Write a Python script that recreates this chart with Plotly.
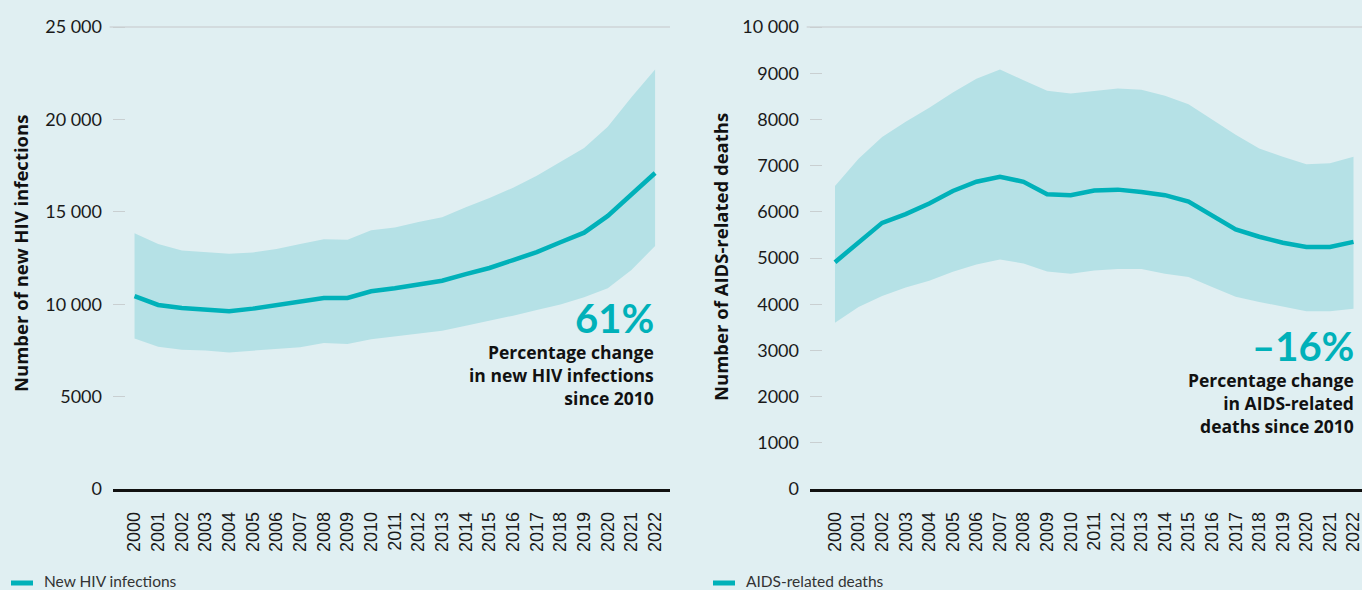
import plotly.graph_objects as go

years = list(range(2000, 2023))

# New HIV infections (left panel)
hiv_est = [10440, 9960, 9800, 9730, 9620, 9760, 9940, 10100, 10340, 10340, 10700,
           10860, 11040, 11270, 11630, 11960, 12390, 12820, 13350, 13870, 14780, 15900, 17100]
hiv_low = [8150, 7700, 7540, 7500, 7390, 7480, 7540, 7670, 7900, 7850, 8100,
           8260, 8390, 8570, 8840, 9090, 9380, 9690, 9990, 10370, 10860, 11850, 13150]
hiv_high = [13840, 13260, 12900, 12800, 12730, 12800, 12990, 13260, 13510, 13490, 14000,
            14150, 14450, 14700, 15250, 15750, 16300, 16950, 17700, 18450, 19600, 21200, 22700]

# AIDS-related deaths (right panel)
aids_est = [4910, 5340, 5760, 5950, 6180, 6450, 6650, 6760, 6650, 6380, 6360,
            6460, 6480, 6430, 6360, 6220, 5930, 5620, 5460, 5330, 5240, 5240, 5350]
aids_low = [3600, 3940, 4180, 4360, 4510, 4700, 4860, 4970, 4880, 4710, 4660,
            4730, 4760, 4760, 4660, 4590, 4370, 4160, 4050, 3950, 3850, 3850, 3900]
aids_high = [6560, 7150, 7620, 7950, 8250, 8580, 8880, 9080, 8850, 8620, 8560,
             8620, 8670, 8640, 8510, 8330, 8000, 7670, 7370, 7190, 7030, 7050, 7190]

left_ticks = [0, 5000, 10000, 15000, 20000, 25000]
left_ticktext = ["0", "5000", "10 000", "15 000", "20 000", "25 000"]
right_ticks = [0, 1000, 2000, 3000, 4000, 5000, 6000, 7000, 8000, 9000, 10000]
right_ticktext = ["0", "1000", "2000", "3000", "4000", "5000", "6000", "7000", "8000", "9000", "10 000"]

left_callout = ["Percentage change", "in new HIV infections", "since 2010"]
right_callout = ["Percentage change", "in AIDS-related", "deaths since 2010"]

BG = "#e0eff2"
BAND = "#b5e1e6"
LINE = "#00b1b9"
TXT = "#1a1a1a"
W, H = 1362, 590
FONT = "Lato, 'Open Sans', sans-serif"
BFONT = "'Open Sans', Lato, sans-serif"

fig = go.Figure()

def add_panel(xa, ya, low, high, est, name):
    fig.add_trace(go.Scatter(x=years, y=low, mode="lines", line=dict(width=0, color=BAND),
                             showlegend=False, hoverinfo="skip", xaxis=xa, yaxis=ya))
    fig.add_trace(go.Scatter(x=years, y=high, mode="lines", line=dict(width=0, color=BAND),
                             fill="tonexty", fillcolor=BAND, showlegend=False,
                             hoverinfo="skip", xaxis=xa, yaxis=ya))
    fig.add_trace(go.Scatter(x=years, y=est, mode="lines", name=name,
                             line=dict(width=4.5, color=LINE), showlegend=False,
                             xaxis=xa, yaxis=ya))

add_panel("x", "y", hiv_low, hiv_high, hiv_est, "New HIV infections")
add_panel("x2", "y2", aids_low, aids_high, aids_est, "AIDS-related deaths")

ydom = [101 / H, (H - 24.23) / H]

xcommon = dict(tickmode="array", tickvals=years, ticktext=[str(y) for y in years],
               tickangle=-90, tickfont=dict(family="'Liberation Sans', Arial, sans-serif", size=18, color=TXT),
               showgrid=False, zeroline=False, showline=True, linecolor="#111111", linewidth=2.5,
               ticks="", ticklabelstandoff=13, ticklabeloverflow="allow",
               fixedrange=True, automargin=False)
ycommon = dict(tickmode="array", showgrid=False, zeroline=False, showline=False,
               ticks="inside", ticklen=12, tickcolor="#c9cfd1", tickwidth=1.2,
               tickfont=dict(family=FONT, size=18, color=TXT), ticklabelstandoff=10,
               fixedrange=True, automargin=False)

fig.update_layout(
    width=W, height=H, autosize=False,
    margin=dict(l=0, r=0, t=0, b=0, pad=0),
    paper_bgcolor=BG, plot_bgcolor=BG,
    showlegend=False,
    xaxis=dict(domain=[113 / W, 670 / W], range=[1999.09, 2022.63], anchor="y", **xcommon),
    yaxis=dict(domain=ydom, range=[0, 25150], tickvals=left_ticks, ticktext=left_ticktext,
               anchor="x", **ycommon),
    xaxis2=dict(domain=[810 / W, 1.0], range=[1998.94, 2022.36], anchor="y2", **xcommon),
    yaxis2=dict(domain=ydom, range=[0, 10060], tickvals=right_ticks, ticktext=right_ticktext,
                anchor="x2", **ycommon),
)

# top gridlines
fig.add_shape(type="line", xref="x domain", yref="y", x0=-0.006, x1=1, y0=25000, y1=25000,
              line=dict(color="#cfd5d7", width=1.5), layer="below")
fig.add_shape(type="line", xref="x2 domain", yref="y2", x0=-0.006, x1=1, y0=10000, y1=10000,
              line=dict(color="#cfd5d7", width=1.5), layer="below")

# axis titles
fig.add_annotation(text="<b>Number of new HIV infections</b>", xref="paper", yref="paper",
                   x=20 / W, y=(H - 254) / H, textangle=-90, showarrow=False,
                   font=dict(family=BFONT, size=18.5, color="#111111"), xanchor="center", yanchor="middle")
fig.add_annotation(text="<b>Number of AIDS-related deaths</b>", xref="paper", yref="paper",
                   x=720 / W, y=(H - 257) / H, textangle=-90, showarrow=False,
                   font=dict(family=BFONT, size=18.5, color="#111111"), xanchor="center", yanchor="middle")

# callouts
fig.add_annotation(text="<b>61%</b>", xref="paper", yref="paper", x=656 / W, y=(H - 318) / H,
                   xanchor="right", yanchor="middle", showarrow=False,
                   font=dict(family=FONT, size=40, color=LINE))
fig.add_annotation(text="<b>" + "<br>".join(left_callout) + "</b>", xref="paper", yref="paper",
                   x=656 / W, y=(H - 375) / H,
                   xanchor="right", yanchor="middle", align="right", showarrow=False,
                   font=dict(family=BFONT, size=17.5, color="#111111"))
fig.add_annotation(text="<b>–16%</b>", xref="paper", yref="paper", x=1356 / W, y=(H - 346) / H,
                   xanchor="right", yanchor="middle", showarrow=False,
                   font=dict(family=FONT, size=40, color=LINE))
fig.add_annotation(text="<b>" + "<br>".join(right_callout) + "</b>", xref="paper", yref="paper",
                   x=1356 / W, y=(H - 403) / H,
                   xanchor="right", yanchor="middle", align="right", showarrow=False,
                   font=dict(family=BFONT, size=17.5, color="#111111"))

# legends
for x0, label in [(11, "New HIV infections"), (713, "AIDS-related deaths")]:
    fig.add_shape(type="rect", xref="paper", yref="paper", x0=x0 / W, x1=(x0 + 22) / W,
                  y0=(H - 585.5) / H, y1=(H - 580.5) / H, fillcolor=LINE, line=dict(width=0))
    fig.add_annotation(text=label, xref="paper", yref="paper", x=(x0 + 31) / W, y=(H - 580.5) / H,
                       xanchor="left", yanchor="middle", showarrow=False,
                       font=dict(family=FONT, size=15.5, color="#333333"))

fig.write_html("out.html", config={"displayModeBar": False},
               post_script="document.body.style.margin='0';document.body.style.overflow='hidden';")
